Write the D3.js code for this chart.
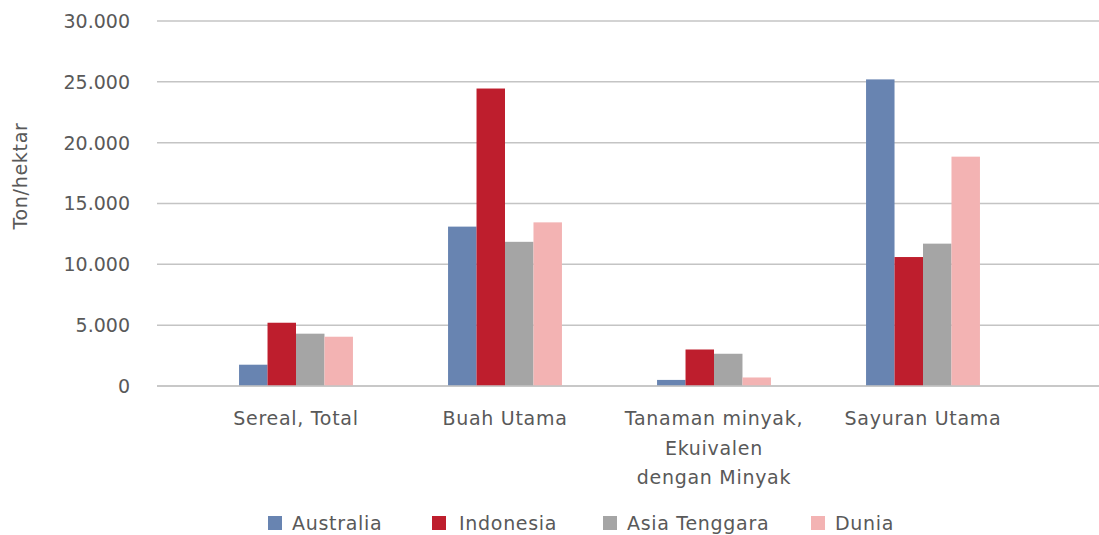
<!DOCTYPE html>
<html lang="id">
<head>
<meta charset="utf-8">
<script src="https://d3js.org/d3.v7.min.js"></script>
<style>
  body { margin: 0; background: #fff; }
  text { font-family: "DejaVu Sans", sans-serif; fill: #595959; }
  .lbl { letter-spacing: 0.7px; }
</style>
</head>
<body>
<script>
// data
var categories = ["Sereal, Total", "Buah Utama", "Tanaman minyak,\nEkuivalen\ndengan Minyak", "Sayuran Utama"];
var seriesNames = ["Australia", "Indonesia", "Asia Tenggara", "Dunia"];
var australia = [1750, 13100, 500, 25200];
var indonesia = [5200, 24450, 3000, 10600];
var asiaTenggara = [4300, 11850, 2650, 11700];
var dunia = [4050, 13450, 700, 18850];
var yTicks = [0, 5000, 10000, 15000, 20000, 25000, 30000];
var colors = ["#6884b1", "#be1e2d", "#a5a5a5", "#f3b3b3"];

var series = [australia, indonesia, asiaTenggara, dunia];

var width = 1099, height = 535;

var svg = d3.select("body").append("svg")
    .attr("width", width)
    .attr("height", height);

var locale = d3.formatLocale({decimal: ",", thousands: ".", grouping: [3], currency: ["", ""]});
var fmt = locale.format(",");

var y = d3.scaleLinear().domain([0, 30000]).range([386, 21]);

var x0 = d3.scaleBand()
    .domain(categories)
    .range([191.5, 1027.5])
    .paddingInner(0.455)
    .paddingOuter(0.2275);

var x1 = d3.scaleBand()
    .domain(seriesNames)
    .range([0, x0.bandwidth()]);

// gridlines
svg.append("g").selectAll("line")
    .data(yTicks)
    .enter().append("line")
    .attr("x1", 157)
    .attr("x2", width)
    .attr("y1", function(d) { return y(d); })
    .attr("y2", function(d) { return y(d); })
    .attr("stroke", "#c4c4c4")
    .attr("stroke-width", 1.5);

// y tick labels
svg.append("g").selectAll("text")
    .data(yTicks)
    .enter().append("text")
    .attr("x", 130)
    .attr("y", function(d) { return y(d); })
    .attr("dy", "0.36em")
    .attr("text-anchor", "end")
    .attr("font-size", 19)
    .text(function(d) { return fmt(d); });

// y title
svg.append("text")
    .attr("class", "lbl")
    .attr("transform", "translate(27,176) rotate(-90)")
    .attr("text-anchor", "middle")
    .attr("font-size", 19)
    .text("Ton/hektar");

// bars
var groups = svg.append("g").selectAll("g")
    .data(categories)
    .enter().append("g")
    .attr("transform", function(d) { return "translate(" + x0(d) + ",0)"; });

groups.selectAll("rect")
    .data(function(d, i) {
        return series.map(function(s, j) { return {name: seriesNames[j], value: s[i], color: colors[j]}; });
    })
    .enter().append("rect")
    .attr("x", function(d) { return x1(d.name); })
    .attr("width", x1.bandwidth())
    .attr("y", function(d) { return y(d.value); })
    .attr("height", function(d) { return y(0) - y(d.value); })
    .attr("fill", function(d) { return d.color; });

// baseline on top of bars
svg.append("line")
    .attr("x1", 157).attr("x2", width)
    .attr("y1", y(0)).attr("y2", y(0))
    .attr("stroke", "#c4c4c4")
    .attr("stroke-width", 1.5);

// category labels
groups.append("text")
    .attr("class", "lbl")
    .attr("x", x0.bandwidth() / 2)
    .attr("y", 425)
    .attr("text-anchor", "middle")
    .attr("font-size", 19)
    .selectAll("tspan")
    .data(function(d) { return d.split("\n"); })
    .enter().append("tspan")
    .attr("x", x0.bandwidth() / 2)
    .attr("dy", function(d, i) { return i ? 29.5 : 0; })
    .text(function(d) { return d; });

// legend
var legendX = [268, 432, 603, 811];
var legend = svg.append("g").selectAll("g")
    .data(seriesNames)
    .enter().append("g")
    .attr("transform", function(d, i) { return "translate(" + legendX[i] + ",516)"; });

legend.append("rect")
    .attr("width", 14)
    .attr("height", 14)
    .attr("fill", function(d, i) { return colors[i]; });

legend.append("text")
    .attr("class", "lbl")
    .attr("x", function(d, i) { return i == 1 ? 27 : 24; })
    .attr("y", 7)
    .attr("dy", "0.36em")
    .attr("font-size", 19)
    .text(function(d) { return d; });
</script>
</body>
</html>
